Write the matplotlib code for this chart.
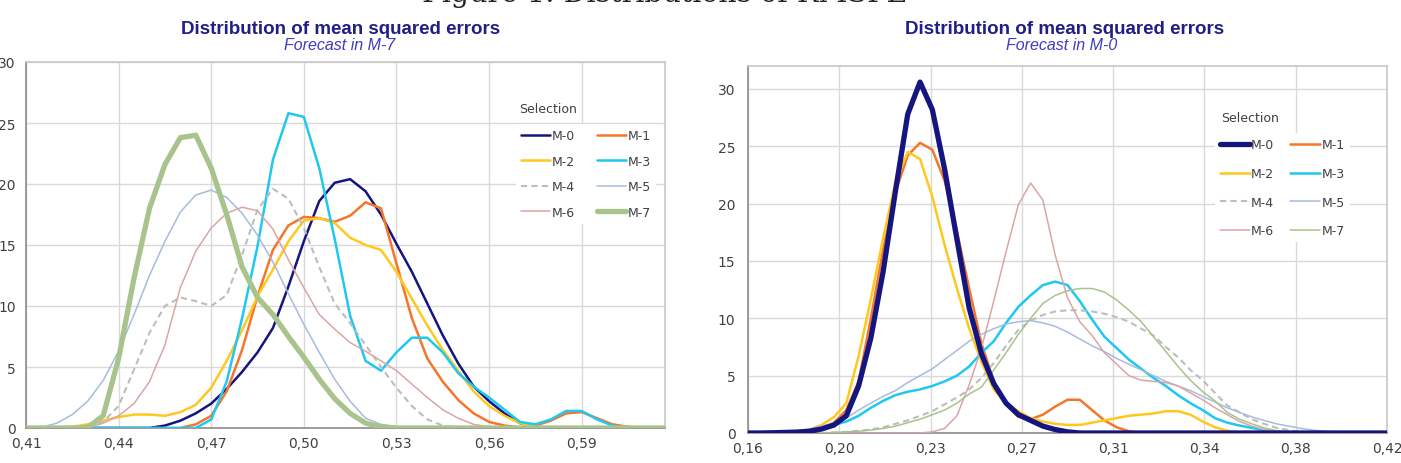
import numpy as np
import matplotlib
matplotlib.use("Agg")
import matplotlib.pyplot as plt

# sample grid of the density curves (left: forecast in M-7, right: forecast in M-0)
x_m7 = np.round(np.arange(0.41, 0.6201, 0.005), 3)
x_m0 = np.round(np.arange(0.16, 0.4201, 0.005), 3)

labels = ["M-0", "M-1", "M-2", "M-3", "M-4", "M-5", "M-6", "M-7"]

# densities (Forecast in M-7)
m7_m0 = [0, 0, 0, 0, 0, 0, 0, 0, 0, 0.2, 0.6, 1.2, 2.0, 3.2, 4.6, 6.2, 8.2, 11.6, 15.3, 18.6, 20.1, 20.4, 19.4,
         17.5, 15.1, 12.8, 10.2, 7.6, 5.3, 3.4, 2.2, 1.2, 0.4, 0.1, 0, 0, 0, 0, 0, 0, 0, 0, 0]
m7_m1 = [0] * 11 + [0.3, 1.0, 3.0, 6.4, 10.8, 14.6, 16.6, 17.3, 17.2, 16.9, 17.4, 18.5, 18.0, 13.5, 9.0, 5.7, 3.8,
                    2.3, 1.2, 0.5, 0.2, 0.05, 0.2, 0.6, 1.2, 1.3, 0.8, 0.3, 0.1, 0, 0, 0]
m7_m2 = [0, 0, 0, 0.1, 0.3, 0.6, 0.9, 1.1, 1.1, 1.0, 1.3, 1.9, 3.3, 5.5, 8.0, 10.8, 13.0, 15.3, 17.0, 17.2, 16.8,
         15.6, 15.0, 14.6, 12.8, 10.6, 8.4, 6.4, 4.7, 3.0, 1.8, 1.0, 0.4, 0.1, 0, 0, 0, 0, 0, 0, 0, 0, 0]
m7_m3 = [0] * 12 + [0.7, 3.8, 9.0, 14.9, 22.0, 25.8, 25.5, 21.3, 15.5, 9.2, 5.5, 4.7, 6.2, 7.4, 7.4, 6.2, 4.5,
                    3.4, 2.5, 1.5, 0.5, 0.3, 0.7, 1.4, 1.4, 0.7, 0.2, 0, 0, 0, 0]
m7_m4 = [0, 0, 0, 0, 0, 0.5, 1.8, 4.8, 7.8, 10.0, 10.7, 10.4, 10.0, 10.9, 14.2, 17.9, 19.6, 18.8, 16.4, 13.2,
         10.2, 8.6, 6.8, 5.0, 3.3, 1.8, 0.7, 0.2] + [0] * 15
m7_m5 = [0, 0.05, 0.4, 1.1, 2.2, 3.9, 6.3, 9.3, 12.5, 15.3, 17.7, 19.1, 19.5, 18.9, 17.6, 15.8, 13.6, 11.0, 8.5,
         6.2, 4.0, 2.2, 0.8, 0.3, 0.1] + [0] * 18
m7_m6 = [0, 0, 0, 0, 0, 0.4, 1.0, 2.0, 3.8, 6.8, 11.5, 14.5, 16.4, 17.6, 18.1, 17.8, 16.3, 13.8, 11.5, 9.3, 8.1,
         7.0, 6.3, 5.5, 4.7, 3.6, 2.5, 1.5, 0.8, 0.3, 0.1] + [0] * 12
m7_m7 = [0, 0, 0, 0, 0.05, 1.0, 5.7, 12.3, 18.0, 21.6, 23.8, 24.0, 21.3, 17.5, 13.2, 10.7, 9.3, 7.5, 5.8, 4.0,
         2.4, 1.2, 0.4, 0.1] + [0] * 19

# densities (Forecast in M-0)
m0_m0 = [0, 0, 0.02, 0.05, 0.08, 0.15, 0.35, 0.7, 1.5, 4.1, 8.3, 14.1, 21.1, 27.8, 30.6, 28.2, 23.0, 16.9, 10.9,
         6.9, 4.3, 2.6, 1.6, 1.1, 0.6, 0.3, 0.1] + [0] * 26
m0_m1 = [0, 0, 0, 0.03, 0.08, 0.15, 0.4, 0.9, 2.0, 4.5, 10.0, 16.0, 21.0, 24.2, 25.3, 24.7, 22.0, 17.6, 12.6, 7.8,
         4.5, 2.5, 1.4, 1.2, 1.6, 2.3, 2.9, 2.9, 2.0, 1.1, 0.5, 0.15] + [0] * 21
m0_m2 = [0, 0, 0.02, 0.05, 0.1, 0.3, 0.7, 1.4, 2.6, 6.7, 11.7, 17.0, 21.9, 24.5, 23.9, 20.6, 16.4, 12.6, 9.1, 6.2,
         3.8, 2.6, 1.9, 1.3, 1.0, 0.8, 0.7, 0.7, 0.9, 1.1, 1.3, 1.5, 1.6, 1.7, 1.9, 1.9, 1.6, 1.0, 0.5, 0.2] + [0] * 13
m0_m3 = [0, 0.02, 0.05, 0.1, 0.15, 0.25, 0.4, 0.7, 1.0, 1.5, 2.2, 2.8, 3.3, 3.6, 3.8, 4.1, 4.5, 5.0, 5.8, 7.0,
         8.0, 9.6, 11.0, 12.0, 12.9, 13.2, 12.9, 11.5, 9.9, 8.4, 7.4, 6.4, 5.6, 4.8, 4.1, 3.3, 2.6, 2.0, 1.3, 0.9,
         0.65, 0.45, 0.25, 0.1, 0.05] + [0] * 8
m0_m4 = [0, 0, 0, 0, 0, 0, 0, 0.05, 0.1, 0.2, 0.3, 0.5, 0.8, 1.1, 1.5, 1.9, 2.5, 3.1, 3.8, 4.8, 6.1, 7.6, 9.0,
         9.8, 10.3, 10.6, 10.7, 10.7, 10.6, 10.4, 10.1, 9.7, 9.1, 8.5, 7.5, 6.6, 5.5, 4.6, 3.5, 2.4, 1.8, 1.2, 0.8,
         0.45, 0.25, 0.1, 0.05] + [0] * 6
m0_m5 = [0, 0, 0.05, 0.1, 0.2, 0.35, 0.6, 0.9, 1.3, 2.0, 2.6, 3.2, 3.7, 4.4, 5.0, 5.6, 6.4, 7.2, 8.0, 8.6, 9.1,
         9.5, 9.7, 9.8, 9.6, 9.3, 8.8, 8.2, 7.6, 7.1, 6.5, 6.0, 5.5, 5.0, 4.5, 4.1, 3.7, 3.2, 2.7, 2.2, 1.8, 1.4,
         1.1, 0.8, 0.6, 0.4, 0.25, 0.15, 0.08, 0.03, 0, 0, 0]
m0_m6 = [0] * 15 + [0.1, 0.4, 1.5, 4.2, 7.4, 11.5, 15.8, 19.9, 21.8, 20.3, 15.5, 11.8, 9.7, 8.5, 7.0, 6.0, 5.0,
                    4.6, 4.5, 4.4, 4.1, 3.5, 2.9, 2.2, 1.6, 1.0, 0.6, 0.3, 0.15, 0.05] + [0] * 8
m0_m7 = [0, 0, 0, 0, 0, 0, 0, 0.05, 0.1, 0.15, 0.25, 0.4, 0.6, 0.9, 1.2, 1.6, 2.0, 2.6, 3.4, 4.0, 5.5, 7.0, 8.6,
         10.0, 11.3, 12.0, 12.4, 12.6, 12.6, 12.3, 11.6, 10.7, 9.7, 8.4, 7.1, 5.8, 4.6, 3.6, 2.8, 1.8, 1.2, 0.8,
         0.45, 0.2, 0.1] + [0] * 8

# tick labels (decimal comma as in the original)
ticks_m7 = [0.41, 0.44, 0.47, 0.50, 0.53, 0.56, 0.59]
ticklabels_m7 = ["0,41", "0,44", "0,47", "0,50", "0,53", "0,56", "0,59"]
ticklabels_m0 = ["0,16", "0,20", "0,23", "0,27", "0,31", "0,34", "0,38", "0,42"]
yticks = [0, 5, 10, 15, 20, 25, 30]

colors = ["#15157f", "#f5762a", "#ffc81e", "#1ec8f0", "#bdbdbd", "#a6bcdf", "#dba5a5", "#a9c38c"]
styles = ["-", "-", "-", "-", (0, (3, 2)), "-", "-", "-"]
base_widths = [1.8, 1.8, 1.8, 1.8, 1.5, 1.1, 1.1, 1.1]


def draw_panel(ax, x, series, thick, xlim, ylim, xticks, xticklabels, leg_xy, sel_xy, leg_opts, ypad):
    lines = []
    for i, (lab, y) in enumerate(zip(labels, series)):
        lw = 3.8 if i == thick else base_widths[i]
        ln, = ax.plot(x, y, color=colors[i], lw=lw, ls=styles[i], label=lab,
                      solid_joinstyle="round", solid_capstyle="round",
                      zorder=4 if i == thick else 3, clip_on=True)
        lines.append(ln)

    ax.set_xlim(*xlim)
    ax.set_ylim(*ylim)
    ax.set_xticks(xticks)
    ax.set_xticklabels(xticklabels)
    ax.set_yticks(yticks)
    ax.grid(True, color="#d9d9d9", lw=1.0)
    ax.set_axisbelow(True)
    ax.tick_params(length=0, labelsize=10, labelcolor="#404040")
    ax.tick_params(axis="y", pad=ypad)
    ax.tick_params(axis="x", pad=6)
    for side in ["top", "right"]:
        ax.spines[side].set_color("#c8c8c8")
    for side in ["left", "bottom"]:
        ax.spines[side].set_color("#8c8c8c")
    for sp in ax.spines.values():
        sp.set_linewidth(1.2)

    # legend filled row by row, like the original
    order = [0, 2, 4, 6, 1, 3, 5, 7]
    leg = ax.legend([lines[k] for k in order], [labels[k] for k in order], ncol=2, loc="center",
                    bbox_to_anchor=leg_xy, frameon=True, facecolor="white", edgecolor="none",
                    framealpha=1, fontsize=9, labelcolor="#404040", **leg_opts)
    leg.set_zorder(5)
    ax.text(sel_xy[0], sel_xy[1], "Selection", transform=ax.transAxes, ha="center", va="center",
            fontsize=9, color="#404040", zorder=6,
            bbox=dict(facecolor="white", edgecolor="none", pad=2))


fig = plt.figure(figsize=(14.01, 4.64), dpi=100)

ax1 = fig.add_axes([26 / 1401, 35 / 464, 639 / 1401, 366 / 464])
draw_panel(ax1, x_m7, [m7_m0, m7_m1, m7_m2, m7_m3, m7_m4, m7_m5, m7_m6, m7_m7], 7,
           (0.41, 0.617), (0, 30), ticks_m7, ticklabels_m7,
           (0.876, 0.694), (0.817, 0.872),
           dict(handlelength=2.35, handletextpad=0.1, columnspacing=1.8, labelspacing=1.0, borderpad=0.4),
           ypad=7.5)

ax2 = fig.add_axes([748 / 1401, 30 / 464, 639 / 1401, 367 / 464])
draw_panel(ax2, x_m0, [m0_m0, m0_m1, m0_m2, m0_m3, m0_m4, m0_m5, m0_m6, m0_m7], 0,
           (0.16, 0.42), (0, 32), np.linspace(0.16, 0.42, 8), ticklabels_m0,
           (0.836, 0.668), (0.785, 0.861),
           dict(handlelength=2.4, handletextpad=0.1, columnspacing=1.3, labelspacing=1.25, borderpad=0.4),
           ypad=9)

# titles (the page heading is cut off at the top, as in the original)
fig.text(665 / 1401, 1 - 2.5 / 464, "Figure 1: Distributions of RMSPE", ha="center", va="baseline",
         fontsize=20.5, family="DejaVu Serif", color="#222222")
for cx, cx2, sub in [(341, 340, "Forecast in M-7"), (1065, 1062, "Forecast in M-0")]:
    fig.text(cx / 1401, 1 - 30 / 464, "Distribution of mean squared errors", ha="center", va="center",
             fontsize=13.5, fontweight="bold", color="#1f1f86", family="Liberation Sans")
    fig.text(cx2 / 1401, 1 - 46 / 464, sub, ha="center", va="center", fontsize=11.5,
             style="italic", color="#3c3cbe", family="Liberation Sans")

fig.savefig("out.png", dpi=100)
